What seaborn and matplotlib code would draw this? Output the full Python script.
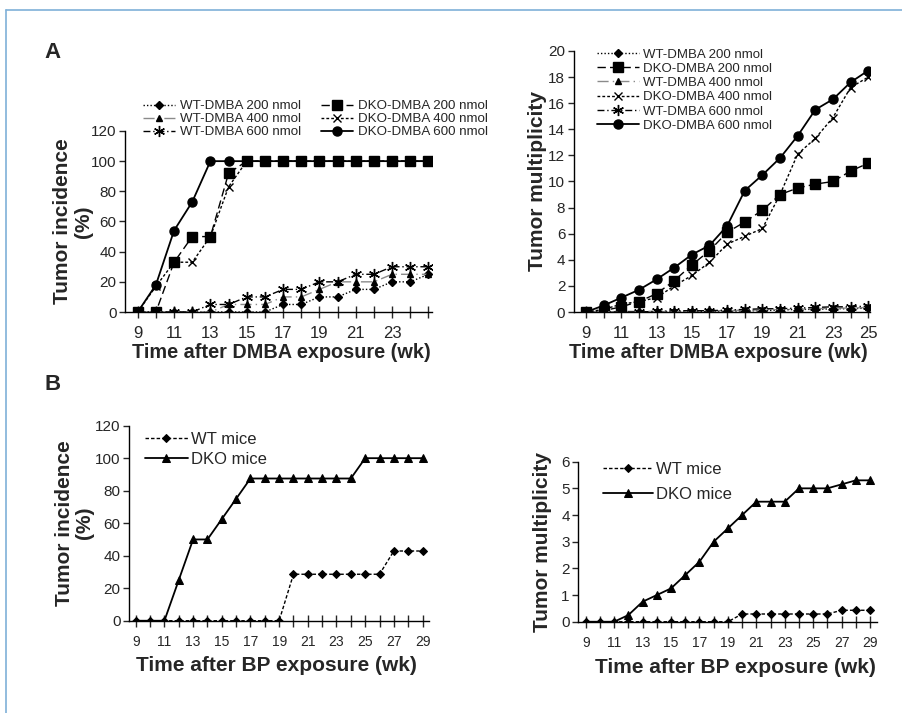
import matplotlib
matplotlib.use("Agg")
import matplotlib.pyplot as plt
from matplotlib.lines import Line2D
import seaborn as sns
import pandas as pd

# ---- data ----
weeks_dmba = list(range(9, 26))
weeks_bp = list(range(9, 30))

# panel A, incidence (%)
inc_wt200 = [0, 0, 0, 0, 0, 0, 0, 0, 5, 5, 10, 10, 15, 15, 20, 20, 25]
inc_dko200 = [0, 0, 33, 50, 50, 92, 100, 100, 100, 100, 100, 100, 100, 100, 100, 100, 100]
inc_wt400 = [0, 0, 0, 0, 0, 5, 5, 5, 10, 10, 15, 20, 20, 20, 25, 25, 25]
inc_dko400 = [0, 17, 33, 33, 50, 83, 100, 100, 100, 100, 100, 100, 100, 100, 100, 100, 100]
inc_wt600 = [0, 0, 0, 0, 5, 5, 10, 10, 15, 15, 20, 20, 25, 25, 30, 30, 30]
inc_dko600 = [0, 18, 54, 73, 100, 100, 100, 100, 100, 100, 100, 100, 100, 100, 100, 100, 100]

# panel A, multiplicity
mul_wt200 = [0, 0, 0, 0, 0, 0, 0, 0.05, 0.05, 0.1, 0.1, 0.15, 0.2, 0.2, 0.25, 0.25, 0.3]
mul_dko200 = [0, 0.1, 0.4, 0.8, 1.4, 2.4, 3.6, 4.7, 6.1, 6.9, 7.8, 9.0, 9.5, 9.8, 10.0, 10.8, 11.4]
mul_wt400 = [0, 0, 0.05, 0.05, 0.05, 0.05, 0.1, 0.1, 0.1, 0.15, 0.15, 0.2, 0.2, 0.25, 0.3, 0.3, 0.35]
mul_dko400 = [0, 0.2, 0.6, 0.8, 1.1, 2.0, 2.8, 3.8, 5.2, 5.8, 6.4, 9.0, 12.1, 13.3, 14.9, 17.2, 18.0]
mul_wt600 = [0, 0, 0, 0, 0.05, 0.1, 0.1, 0.1, 0.15, 0.2, 0.25, 0.25, 0.3, 0.35, 0.4, 0.4, 0.45]
mul_dko600 = [0, 0.5, 1.1, 1.7, 2.5, 3.4, 4.4, 5.1, 6.6, 9.3, 10.5, 11.8, 13.5, 15.5, 16.3, 17.6, 18.5]

# panel B
bp_inc_wt = [0] * 11 + [28.6] * 7 + [42.9] * 3
bp_inc_dko = [0, 0, 0, 25, 50, 50, 62.5, 75, 87.5, 87.5, 87.5, 87.5, 87.5, 87.5, 87.5, 87.5,
              100, 100, 100, 100, 100]
bp_mul_wt = [0] * 11 + [0.29] * 7 + [0.43] * 3
bp_mul_dko = [0, 0, 0, 0.25, 0.75, 1.0, 1.25, 1.75, 2.25, 3.0, 3.5, 4.0, 4.5, 4.5, 4.5,
              5.0, 5.0, 5.0, 5.15, 5.3, 5.3]

dmba_labels = ["WT-DMBA 200 nmol", "DKO-DMBA 200 nmol", "WT-DMBA 400 nmol",
               "DKO-DMBA 400 nmol", "WT-DMBA 600 nmol", "DKO-DMBA 600 nmol"]

# styles per series: (linestyle, marker, line colour, markersize)
dmba_styles = [
    ((0, (1, 1.5)), "D", "black", 4),
    ((0, (6, 3)), "s", "black", 6.5),
    ((0, (8, 3, 1, 3)), "^", "#8a8a8a", 5),
    ((0, (2, 1.5)), "x", "black", 6),
    ((0, (5, 2, 1, 2)), (6, 2, 0), "black", 8),
    ("-", "o", "black", 6.5),
]

sns.set_style("ticks")
plt.rcParams["font.family"] = ["Liberation Sans", "DejaVu Sans"]

fig = plt.figure(figsize=(9.02, 7.13), dpi=100)

ax1 = fig.add_axes([0.1386, 0.5624, 0.3404, 0.2539])
ax2 = fig.add_axes([0.636, 0.5624, 0.3285, 0.3661])
ax3 = fig.add_axes([0.143, 0.1294, 0.3326, 0.2736])
ax4 = fig.add_axes([0.641, 0.128, 0.3315, 0.2245])


def draw_dmba(ax, series):
    for vals, lab, (ls, mk, col, ms) in zip(series, dmba_labels, dmba_styles):
        sns.lineplot(x=weeks_dmba, y=vals, ax=ax, color=col, linestyle=ls,
                     linewidth=1.3 if ls == "-" else 1, marker=mk, markersize=ms,
                     markerfacecolor="black", markeredgecolor="black",
                     markeredgewidth=1, label=lab)
    return ax.get_legend_handles_labels()


def style_axis(ax, xmin, xmax, xlast_label, yticks, ylim, xtick_size):
    ax.set_xlim(xmin, xmax)
    ax.set_ylim(*ylim)
    ax.set_yticks(yticks)
    ticks = list(range(9, int(xmax) + 1))
    ax.set_xticks(ticks)
    ax.set_xticklabels([str(t) if (t % 2 == 1 and t <= xlast_label) else "" for t in ticks],
                       fontsize=xtick_size)
    ax.tick_params(axis="x", direction="inout", length=8, width=1, pad=6)
    ax.tick_params(axis="y", direction="out", length=4, width=1, labelsize=11, pad=2)
    sns.despine(ax=ax)
    for s in ["left", "bottom"]:
        ax.spines[s].set_linewidth(1)
        ax.spines[s].set_color("black")


# --- A left: incidence ---
h, l = draw_dmba(ax1, [inc_wt200, inc_dko200, inc_wt400, inc_dko400, inc_wt600, inc_dko600])
order = [0, 2, 4, 1, 3, 5]
ax1.legend([h[i] for i in order], [l[i] for i in order], ncol=2, frameon=False,
           fontsize=9.6, handlelength=2.4, columnspacing=1.5, handletextpad=0.35,
           labelspacing=0.05, loc="lower left", bbox_to_anchor=(0.042, 0.93),
           borderaxespad=0)
style_axis(ax1, 8.3, 25.2, 23, range(0, 121, 20), (0, 120), 12)
ax1.set_ylabel("Tumor incidence\n(%)", fontsize=15, fontweight="bold", linespacing=1.1)
ax1.set_xlabel("Time after DMBA exposure (wk)", fontsize=14.3, fontweight="bold")
ax1.yaxis.set_label_coords(-0.105, 0.5)
ax1.xaxis.set_label_coords(0.51, -0.171)

# --- A right: multiplicity ---
draw_dmba(ax2, [mul_wt200, mul_dko200, mul_wt400, mul_dko400, mul_wt600, mul_dko600])
ax2.legend(frameon=False, fontsize=9.5, handlelength=3.2, handletextpad=0.3,
           labelspacing=0.15, loc="upper left", bbox_to_anchor=(0.06, 1.03),
           borderaxespad=0)
style_axis(ax2, 8.3, 25.1, 25, range(0, 21, 2), (0, 20), 12)
ax2.set_ylabel("Tumor multiplicity", fontsize=15, fontweight="bold")
ax2.set_xlabel("Time after DMBA exposure (wk)", fontsize=14.3, fontweight="bold")
ax2.yaxis.set_label_coords(-0.09, 0.5)
ax2.xaxis.set_label_coords(0.49, -0.119)

# --- B ---
def draw_bp(ax, wt, dko):
    sns.lineplot(x=weeks_bp, y=wt, ax=ax, color="black", linestyle=(0, (2.5, 1.5)),
                 linewidth=1, marker="D", markersize=4, markeredgecolor="black",
                 label="WT mice")
    sns.lineplot(x=weeks_bp, y=dko, ax=ax, color="black", linestyle="-", linewidth=1.3,
                 marker="^", markersize=6, markeredgecolor="black", label="DKO mice")


draw_bp(ax3, bp_inc_wt, bp_inc_dko)
ax3.legend(frameon=False, fontsize=12, handlelength=2.6, handletextpad=0.2,
           labelspacing=0.3, loc="upper left", bbox_to_anchor=(0.03, 1.0),
           borderaxespad=0)
style_axis(ax3, 8.53, 29.45, 29, range(0, 121, 20), (0, 120), 10)
ax3.set_ylabel("Tumor incidence\n(%)", fontsize=15, fontweight="bold", linespacing=1.1)
ax3.set_xlabel("Time after BP exposure (wk)", fontsize=15, fontweight="bold")
ax3.yaxis.set_label_coords(-0.115, 0.5)
ax3.xaxis.set_label_coords(0.49, -0.18)

draw_bp(ax4, bp_mul_wt, bp_mul_dko)
ax4.legend(frameon=False, fontsize=12, handlelength=3.0, handletextpad=0.2,
           labelspacing=0.6, loc="upper left", bbox_to_anchor=(0.06, 1.04),
           borderaxespad=0)
style_axis(ax4, 8.47, 29.5, 29, range(0, 7), (0, 6), 10)
ax4.set_ylabel("Tumor multiplicity", fontsize=15, fontweight="bold")
ax4.set_xlabel("Time after BP exposure (wk)", fontsize=15, fontweight="bold")
ax4.yaxis.set_label_coords(-0.087, 0.5)
ax4.xaxis.set_label_coords(0.525, -0.227)

# panel letters
fig.text(44 / 902, 1 - 52 / 713, "A", fontsize=16, fontweight="bold", va="center")
fig.text(44 / 902, 1 - 384 / 713, "B", fontsize=16, fontweight="bold", va="center")

# thin blue frame on the left and top
fig.add_artist(Line2D([6 / 902, 6 / 902], [0, 1 - 10 / 713], color="#7fb0d8", lw=1.2))
fig.add_artist(Line2D([6 / 902, 1], [1 - 10 / 713, 1 - 10 / 713], color="#7fb0d8", lw=1.2))

fig.savefig("out.png", dpi=100)
